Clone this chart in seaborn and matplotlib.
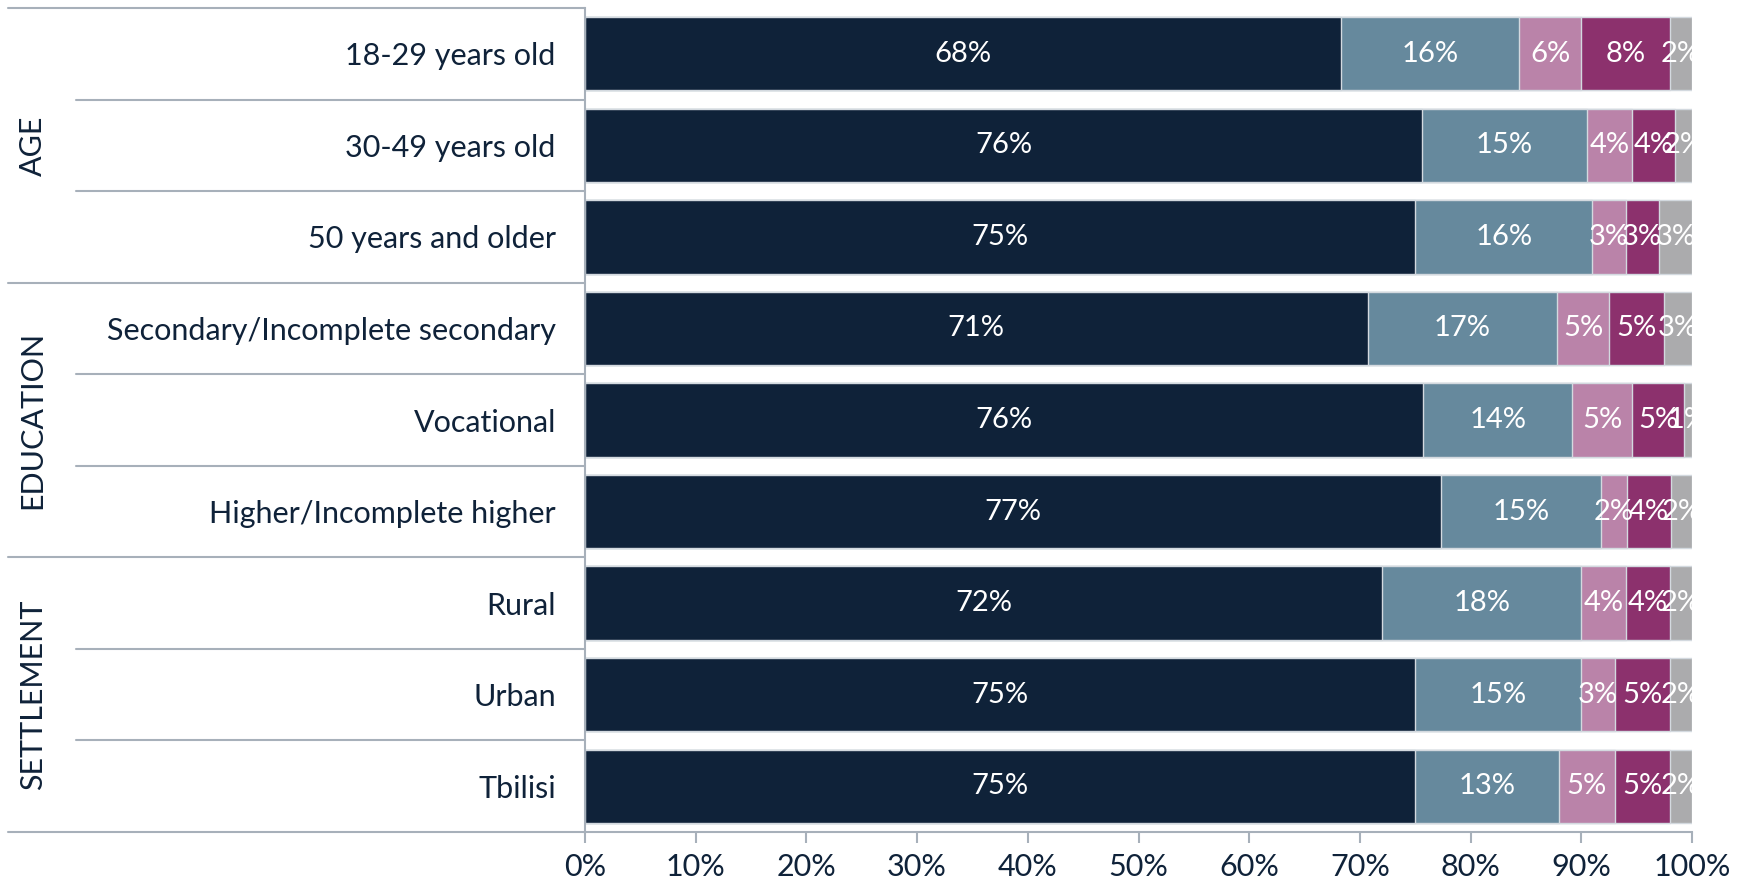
import matplotlib.pyplot as plt
import matplotlib.transforms as mtransforms
import numpy as np
import pandas as pd
import seaborn as sns

categories = [
    "18-29 years old",
    "30-49 years old",
    "50 years and older",
    "Secondary/Incomplete secondary",
    "Vocational",
    "Higher/Incomplete higher",
    "Rural",
    "Urban",
    "Tbilisi",
]
groups = ["AGE", "EDUCATION", "SETTLEMENT"]
group_sizes = [3, 3, 3]

s1 = [68.3, 75.6, 75.0, 70.7, 75.7, 77.3, 72.0, 75.0, 75.0]
s2 = [16.1, 14.9, 16.0, 17.1, 13.5, 14.5, 18.0, 15.0, 13.0]
s3 = [5.6, 4.1, 3.0, 4.7, 5.4, 2.3, 4.0, 3.0, 5.0]
s4 = [8.0, 3.9, 3.0, 5.0, 4.7, 4.0, 4.0, 5.0, 5.0]
s5 = [2.0, 1.5, 3.0, 2.5, 0.7, 1.9, 2.0, 2.0, 2.0]
series = [s1, s2, s3, s4, s5]
colors = ["#0F2239", "#66899D", "#BA83A9", "#8C316D", "#ABABAD"]
xticks = [0, 10, 20, 30, 40, 50, 60, 70, 80, 90, 100]

navy = "#0F2239"
line_c = "#A7B0BA"

sns.set_style("white")
plt.rcParams["font.family"] = ["Lato", "DejaVu Sans"]

df = pd.DataFrame({"category": categories})
cum = np.cumsum(np.array(series), axis=0)
for k in range(len(series)):
    df[f"cum{k}"] = cum[k]

fig = plt.figure(figsize=(17.44, 8.88), dpi=100)
ax = fig.add_axes([585 / 1744, 1 - 832 / 888, 1107 / 1744, 824 / 888])

# stacked look: draw cumulative totals from the back forward
for k in range(len(series) - 1, -1, -1):
    sns.barplot(
        data=df,
        x=f"cum{k}",
        y="category",
        order=categories,
        orient="h",
        color=colors[k],
        saturation=1,
        width=0.8,
        errorbar=None,
        edgecolor="#D3D9DF",
        linewidth=1.0,
        ax=ax,
    )

for i in range(len(categories)):
    left = 0
    for k in range(len(series)):
        v = series[k][i]
        ax.text(left + v / 2, i, f"{int(v + 0.5)}%", ha="center", va="center",
                color="white", fontsize=21)
        left += v

ax.set_xlim(0, 100)
ax.set_ylim(len(categories) - 0.5, -0.5)
ax.set_xticks(xticks)
ax.set_xticklabels([f"{t}%" for t in xticks])
ax.set_xlabel("")
ax.set_ylabel("")
ax.tick_params(axis="x", length=8, width=1.5, color=line_c, pad=7,
               labelsize=22, labelcolor=navy, direction="out", bottom=True)
ax.tick_params(axis="y", length=0, pad=21, labelsize=22, labelcolor=navy)
for s in ["top", "right"]:
    ax.spines[s].set_visible(False)
for s in ["left", "bottom"]:
    ax.spines[s].set_color(line_c)
    ax.spines[s].set_linewidth(1.5)

trans = mtransforms.blended_transform_factory(ax.transAxes, ax.transData)
group_edges = np.cumsum([0] + group_sizes)
for b in range(len(categories) + 1):
    x0 = -0.521 if b in group_edges else -0.46
    ax.plot([x0, 0], [b - 0.5, b - 0.5], color=line_c, lw=1.5,
            transform=trans, clip_on=False)

for g, name in enumerate(groups):
    mid = (group_edges[g] + group_edges[g + 1] - 1) / 2
    ax.text(-0.499, mid, name, rotation=90, ha="center", va="center",
            fontsize=22, color=navy, transform=trans)

fig.savefig("out.png", dpi=100)
